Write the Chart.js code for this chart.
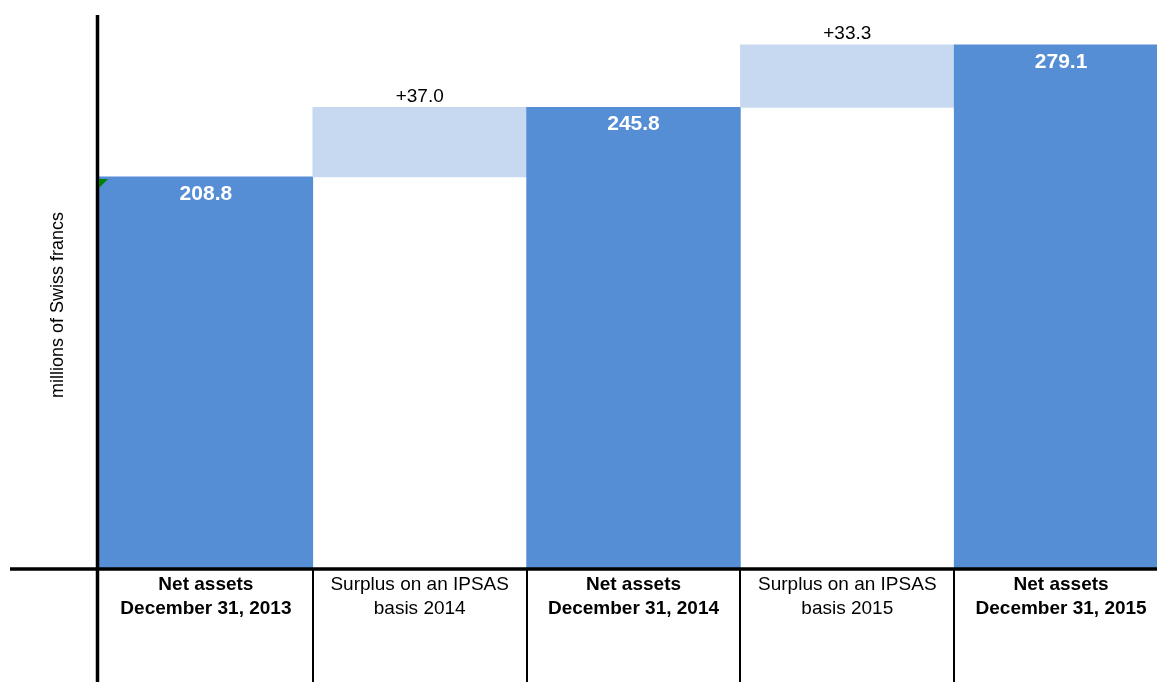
<!DOCTYPE html>
<html>
<head>
<meta charset="utf-8">
<script src="https://cdn.jsdelivr.net/npm/chart.js@4"></script>
<style>
  html, body { margin: 0; padding: 0; overflow: hidden; background: #fff; }
</style>
</head>
<body>
<canvas id="Graph" width="1168" height="682"></canvas>
<script>
const categories = [
  ['Net assets', 'December 31, 2013'],
  ['Surplus on an IPSAS', 'basis 2014'],
  ['Net assets', 'December 31, 2014'],
  ['Surplus on an IPSAS', 'basis 2015'],
  ['Net assets', 'December 31, 2015']
];
const isTotal = [true, false, true, false, true];
const barStart = [0, 208.8, 0, 245.8, 0];
const barEnd = [208.8, 245.8, 245.8, 279.1, 279.1];
const valueLabels = ['208.8', '+37.0', '245.8', '+33.3', '279.1'];
const axisTitle = 'millions of Swiss francs';

const FONT = '"Liberation Sans", Arial, sans-serif';
const DARK = '#558ED5';
const LIGHT = '#C6D9F1';

let canvas = document.getElementById('Graph');

// axis lines, separators, value labels and the y title
const decorations = {
  id: 'decorations',
  afterDraw(chart) {
    const ctx = chart.ctx;
    const area = chart.chartArea;
    const x = chart.scales.x;
    const half = (x.getPixelForValue(1) - x.getPixelForValue(0)) / 2;
    ctx.save();
    ctx.strokeStyle = '#000';

    // category separators below the axis
    ctx.lineWidth = 2;
    for (let i = 1; i <= categories.length; i++) {
      const px = Math.round(x.getPixelForValue(i) - half);
      ctx.beginPath();
      ctx.moveTo(px, area.bottom);
      ctx.lineTo(px, chart.height);
      ctx.stroke();
    }
    // vertical axis, running down through the label band
    ctx.lineWidth = 3.5;
    ctx.beginPath();
    ctx.moveTo(area.left - 1.5, area.top);
    ctx.lineTo(area.left - 1.5, chart.height);
    ctx.stroke();
    // horizontal axis
    ctx.lineWidth = 3.5;
    ctx.beginPath();
    ctx.moveTo(10, area.bottom);
    ctx.lineTo(chart.width, area.bottom);
    ctx.stroke();

    // value labels
    const meta = chart.getDatasetMeta(0);
    ctx.textAlign = 'center';
    ctx.textBaseline = 'middle';
    meta.data.forEach((bar, i) => {
      if (isTotal[i]) {
        ctx.fillStyle = '#fff';
        ctx.font = 'bold 21px ' + FONT;
        ctx.fillText(valueLabels[i], bar.x, bar.y + 17);
      } else {
        ctx.fillStyle = '#000';
        ctx.font = '19px ' + FONT;
        ctx.fillText(valueLabels[i], bar.x, bar.y - 11);
      }
    });

    // small green marker on the first bar
    const first = meta.data[0];
    const bx = first.x - first.width / 2;
    ctx.fillStyle = '#008000';
    ctx.beginPath();
    ctx.moveTo(bx, first.y + 2);
    ctx.lineTo(bx + 9, first.y + 2);
    ctx.lineTo(bx, first.y + 11);
    ctx.closePath();
    ctx.fill();

    // y title
    ctx.fillStyle = '#000';
    ctx.font = '18px ' + FONT;
    ctx.translate(58, 305);
    ctx.rotate(-Math.PI / 2);
    ctx.fillText(axisTitle, 0, 0);
    ctx.restore();
  }
};

const data = {
  labels: categories,
  datasets: [{
    data: barStart.map((s, i) => [s, barEnd[i]]),
    backgroundColor: isTotal.map(t => t ? DARK : LIGHT),
    borderWidth: 0,
    barPercentage: 1,
    categoryPercentage: 1
  }]
};

const config = {
  type: 'bar',
  data: data,
  options: {
    responsive: false,
    animation: false,
    layout: { padding: { left: 99, right: 0, top: 15, bottom: 0 } },
    plugins: {
      legend: { display: false },
      tooltip: { enabled: false }
    },
    scales: {
      x: {
        grid: { display: false, drawTicks: false },
        border: { display: false },
        ticks: {
          color: '#000',
          padding: 4,
          maxRotation: 0,
          autoSkip: false,
          font: (c) => ({
            family: FONT,
            size: 19,
            weight: isTotal[c.index] ? 'bold' : 'normal',
            lineHeight: 1.27
          })
        },
        afterFit: (s) => { s.height = 113; }
      },
      y: {
        display: false,
        min: 0,
        max: 295
      }
    }
  },
  plugins: [decorations]
};

const chart = new Chart(canvas, config);
</script>
</body>
</html>
